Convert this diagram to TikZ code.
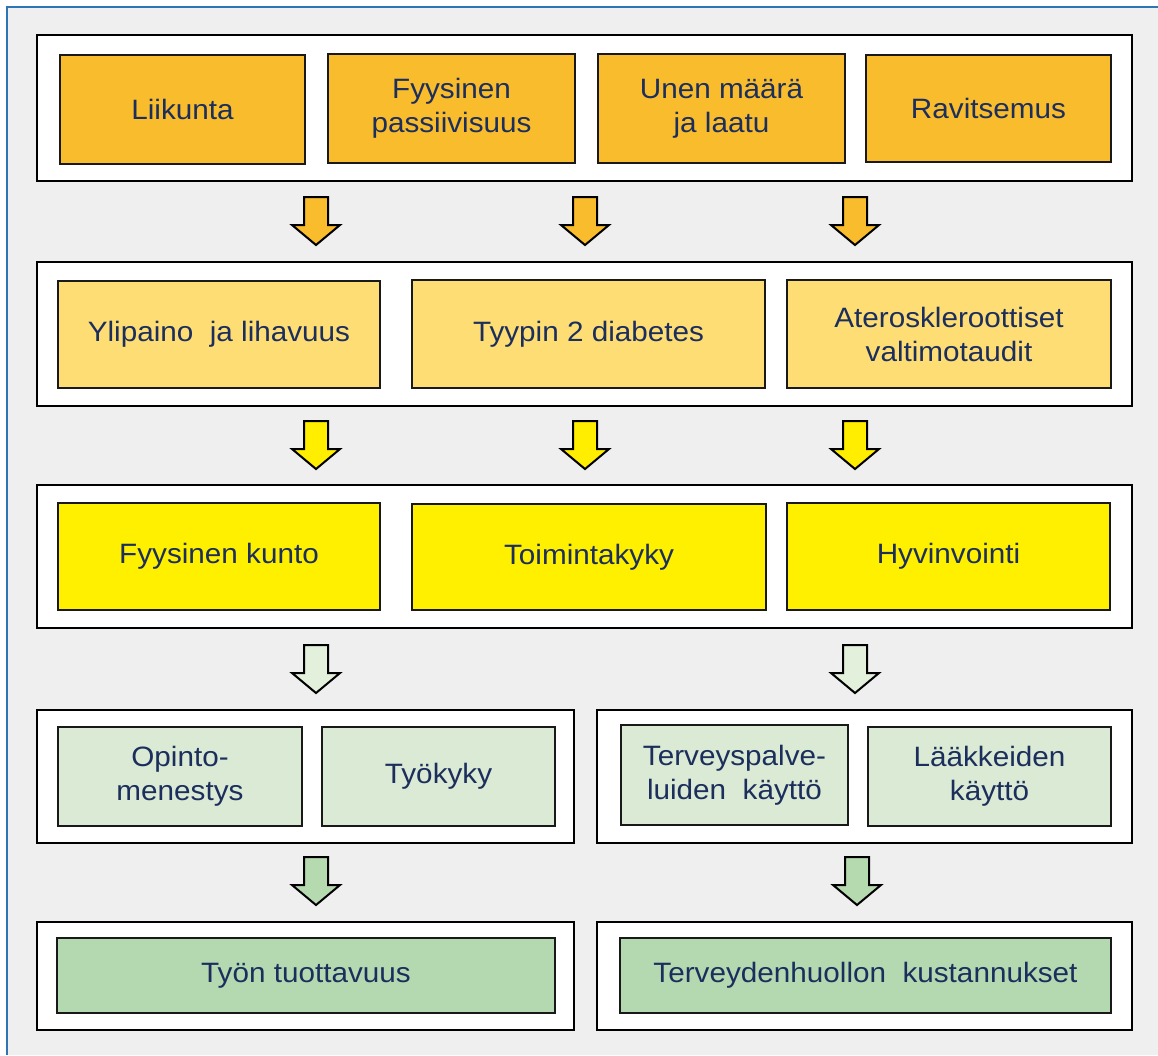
\documentclass[tikz,border=0pt]{standalone}
\usepackage{fontspec}
\setmainfont[FakeStretch=1.06]{Liberation Sans}
\definecolor{bgc}{HTML}{EFEFEF}
\definecolor{framec}{HTML}{2E75B6}
\definecolor{txtc}{HTML}{1C2E5C}
\definecolor{c1}{HTML}{F9BC2C}
\definecolor{c2}{HTML}{FDDD74}
\definecolor{c3}{HTML}{FFF000}
\definecolor{c4}{HTML}{DAEAD4}
\definecolor{c5}{HTML}{B4D9B1}
\definecolor{a2}{HTML}{FFEE00}
\definecolor{a3}{HTML}{E3F0DB}
\definecolor{a4}{HTML}{B6DAAF}
\newcommand\mybox[7]{\node[#6, minimum width={(#4-#2)*1pt}, minimum height={(#5-#3)*1pt}] (#1) at ({(#2+#4)/2},{(#3+#5)/2}) {#7};}
\newcommand\barrow[4]{\coordinate (#1) at (#2,#3);
  \draw[arrline, fill=#4] ([xshift=-12pt]#1) -- ++(24,0) -- ++(0,28) -- ++(12,0) -- ++(-24,20) -- ++(-24,-20) -- ++(12,0) -- cycle;}
\begin{document}
\begin{tikzpicture}[x=1pt,y=-1pt,
  outerbox/.style={draw=black, line width=2.6pt, fill=white, inner sep=0pt},
  innerbox/.style={draw=black!90, line width=2pt, inner sep=0pt, align=center, text=txtc,
     font=\fontsize{28}{34}\selectfont},
  arrline/.style={draw=black, line width=2pt, line join=miter}]
\useasboundingbox (0,0) rectangle (1158,1055);
\fill[white] (0,0) rectangle (1158,1055);
\fill[bgc] (7,7) rectangle (1158,1055);
\draw[framec, line width=2.2pt] (7,1055) -- (7,7) -- (1158,7);

% row 1
\mybox{r1}{37}{35}{1132}{181}{outerbox}{}
\mybox{b11}{60}{55}{305}{164}{innerbox, fill=c1}{Liikunta}
\mybox{b12}{328}{54}{575}{163}{innerbox, fill=c1}{Fyysinen\\passiivisuus}
\mybox{b13}{598}{54}{845}{163}{innerbox, fill=c1}{Unen määrä\\ja laatu}
\mybox{b14}{866}{55}{1111}{162}{innerbox, fill=c1}{Ravitsemus}

\barrow{p11}{316}{197}{c1}
\barrow{p12}{585}{197}{c1}
\barrow{p13}{855}{197}{c1}

% row 2
\mybox{r2}{37}{262}{1132}{406}{outerbox}{}
\mybox{b21}{58}{281}{380}{388}{innerbox, fill=c2}{Ylipaino~ ja lihavuus}
\mybox{b22}{412}{280}{765}{388}{innerbox, fill=c2}{Tyypin 2 diabetes}
\mybox{b23}{787}{280}{1111}{388}{innerbox, fill=c2}{Ateroskleroottiset\\valtimotaudit}

\barrow{p21}{316}{421}{a2}
\barrow{p22}{585}{421}{a2}
\barrow{p23}{855}{421}{a2}

% row 3
\mybox{r3}{37}{485}{1132}{628}{outerbox}{}
\mybox{b31}{58}{503}{380}{610}{innerbox, fill=c3}{Fyysinen kunto}
\mybox{b32}{412}{504}{766}{610}{innerbox, fill=c3}{Toimintakyky}
\mybox{b33}{787}{503}{1110}{610}{innerbox, fill=c3}{Hyvinvointi}

\barrow{p31}{316}{645}{a3}
\barrow{p32}{855}{645}{a3}

% row 4
\mybox{r4a}{37}{710}{574}{843}{outerbox}{}
\mybox{r4b}{597}{710}{1132}{843}{outerbox}{}
\mybox{b41}{58}{727}{302}{826}{innerbox, fill=c4}{Opinto-\\menestys}
\mybox{b42}{322}{727}{555}{826}{innerbox, fill=c4}{Työkyky}
\mybox{b43}{621}{725}{848}{825}{innerbox, fill=c4}{Terveyspalve-\\luiden~ käyttö}
\mybox{b44}{868}{727}{1111}{826}{innerbox, fill=c4}{Lääkkeiden\\käyttö}

\barrow{p41}{316}{857}{a4}
\barrow{p42}{857}{857}{a4}

% row 5
\mybox{r5a}{37}{922}{574}{1030}{outerbox}{}
\mybox{r5b}{597}{922}{1132}{1030}{outerbox}{}
\mybox{b51}{57}{938}{555}{1013}{innerbox, fill=c5}{Työn tuottavuus}
\mybox{b52}{620}{938}{1111}{1013}{innerbox, fill=c5}{Terveydenhuollon~ kustannukset}
\end{tikzpicture}
\end{document}
